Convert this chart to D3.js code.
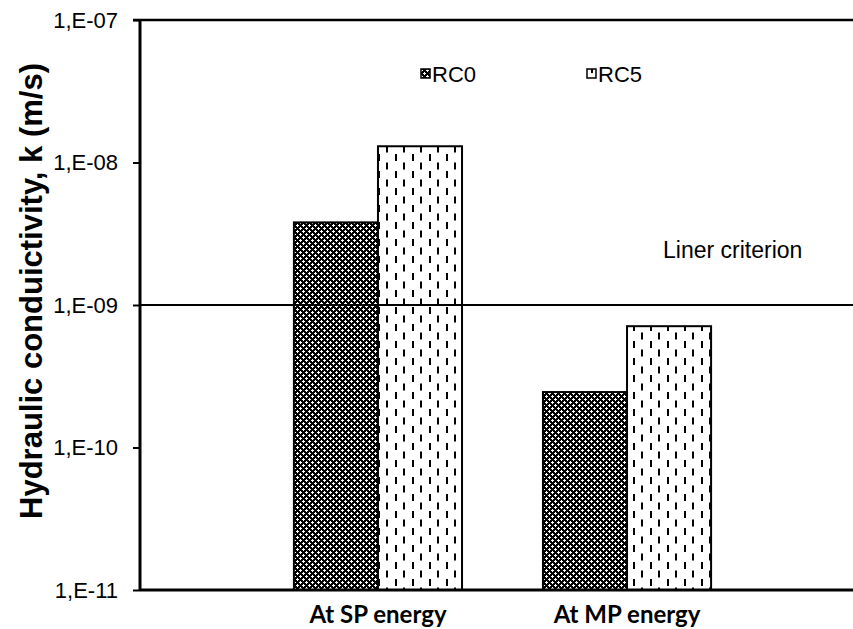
<!DOCTYPE html>
<html>
<head>
<meta charset="utf-8">
<script src="https://cdn.jsdelivr.net/npm/d3@7"></script>
<style>
  body { margin: 0; background: #fff; }
  svg { display: block; }
</style>
</head>
<body>
<svg id="canvas"></svg>
<script>
let categories = ["At SP energy", "At MP energy"];
let seriesNames = ["RC0", "RC5"];
let rc0 = [3.8e-9, 2.45e-10];
let rc5 = [1.3e-8, 7.1e-10];
let yTicks = [1e-11, 1e-10, 1e-9, 1e-8, 1e-7];
let yTickLabels = ["1,E-11", "1,E-10", "1,E-09", "1,E-08", "1,E-07"];
let linerCriterion = 1e-9;

let width = 853;
let height = 629;
let plotLeft = 140;
let plotTop = 20;
let plotBottom = 590;
let plotRight = 865;

let canvas = d3.select("#canvas").attr("width", width).attr("height", height);

let defs = canvas.append("defs");

// dark dotted grid for RC0
let p0 = defs.append("pattern")
  .attr("id", "pat-rc0")
  .attr("patternUnits", "userSpaceOnUse")
  .attr("width", 6).attr("height", 6);
p0.append("rect").attr("width", 6).attr("height", 6).attr("fill", "#000");
[[2, 3], [3, 2], [3, 3], [4, 3], [3, 4], [0, 0], [1, 0], [5, 0], [0, 1], [0, 5]].forEach((d) => {
  p0.append("rect").attr("x", d[0]).attr("y", d[1]).attr("width", 1).attr("height", 1).attr("fill", "#fff");
});

// staggered vertical dashes for RC5
let p1 = defs.append("pattern")
  .attr("id", "pat-rc5")
  .attr("patternUnits", "userSpaceOnUse")
  .attr("width", 17).attr("height", 17);
p1.append("rect").attr("width", 17).attr("height", 17).attr("fill", "#fff");
p1.append("rect").attr("x", 4).attr("y", 1).attr("width", 2).attr("height", 7).attr("fill", "#000");
p1.append("rect").attr("x", 12).attr("y", 9.5).attr("width", 2).attr("height", 7).attr("fill", "#000");

let xScale = d3.scaleBand()
  .domain(categories)
  .range([plotLeft, plotRight])
  .paddingInner(0.325)
  .paddingOuter(0.618);

let xSub = d3.scaleBand()
  .domain(seriesNames)
  .range([0, xScale.bandwidth()]);

let yScale = d3.scaleLog()
  .domain([1e-11, 1e-7])
  .range([plotBottom, plotTop]);

let fills = { RC0: "url(#pat-rc0)", RC5: "url(#pat-rc5)" };

let rows = [];
categories.forEach((c, i) => {
  rows.push({ cat: c, series: "RC0", value: rc0[i] });
  rows.push({ cat: c, series: "RC5", value: rc5[i] });
});

canvas.append("g")
  .selectAll("rect")
  .data(rows)
  .enter()
  .append("rect")
  .attr("x", (d) => xScale(d.cat) + xSub(d.series))
  .attr("width", xSub.bandwidth())
  .attr("y", (d) => yScale(d.value))
  .attr("height", (d) => plotBottom - yScale(d.value))
  .attr("fill", (d) => fills[d.series])
  .attr("stroke", "#000")
  .attr("stroke-width", 2);

// liner criterion line
canvas.append("line")
  .attr("x1", plotLeft).attr("x2", width)
  .attr("y1", yScale(linerCriterion)).attr("y2", yScale(linerCriterion))
  .attr("stroke", "#000").attr("stroke-width", 2);

canvas.append("text")
  .attr("x", 663)
  .attr("y", yScale(linerCriterion) - 47)
  .attr("font-family", "Liberation Sans, Arial, sans-serif")
  .attr("font-size", 23)
  .text("Liner criterion");

// top border
canvas.append("line")
  .attr("x1", plotLeft - 7).attr("x2", width)
  .attr("y1", plotTop).attr("y2", plotTop)
  .attr("stroke", "#000").attr("stroke-width", 2.5);

// y axis
let yAxis = d3.axisLeft(yScale)
  .tickValues(yTicks)
  .tickSize(7)
  .tickPadding(15)
  .tickFormat((d, i) => yTickLabels[i]);

let yG = canvas.append("g")
  .attr("transform", "translate(" + plotLeft + ",0)")
  .call(yAxis);
yG.select(".domain").remove();
yG.selectAll("line").attr("stroke", "#000").attr("stroke-width", 2);
yG.selectAll("text")
  .attr("font-family", "Liberation Sans, Arial, sans-serif")
  .attr("font-size", 22)
  .attr("fill", "#000");

canvas.append("line")
  .attr("x1", plotLeft).attr("x2", plotLeft)
  .attr("y1", plotTop).attr("y2", plotBottom)
  .attr("stroke", "#000").attr("stroke-width", 3);

// x axis
let xAxis = d3.axisBottom(xScale).tickSize(0);
let xG = canvas.append("g")
  .attr("transform", "translate(0," + plotBottom + ")")
  .call(xAxis);
xG.select(".domain").remove();
xG.selectAll("text")
  .attr("y", 33)
  .attr("dy", null)
  .attr("font-family", "Lato, Carlito, Calibri, sans-serif")
  .attr("font-weight", "bold")
  .attr("font-size", 24)
  .attr("fill", "#000");

canvas.append("line")
  .attr("x1", plotLeft).attr("x2", width)
  .attr("y1", plotBottom).attr("y2", plotBottom)
  .attr("stroke", "#000").attr("stroke-width", 3);

// y title
canvas.append("text")
  .attr("transform", "translate(42," + 291 + ") rotate(-90)")
  .attr("text-anchor", "middle")
  .attr("font-family", "Liberation Sans, Arial, sans-serif")
  .attr("font-weight", "bold")
  .attr("font-size", 31)
  .text("Hydraulic conduictivity, k (m/s)");

// legend
let legendPos = [[421, 82], [587, 82]];
seriesNames.forEach((s, i) => {
  let g = canvas.append("g").attr("transform", "translate(" + legendPos[i][0] + "," + legendPos[i][1] + ")");
  g.append("rect")
    .attr("x", 0).attr("y", -13)
    .attr("width", 9).attr("height", 9)
    .attr("fill", fills[s])
    .attr("stroke", "#000").attr("stroke-width", 1.5);
  g.append("text")
    .attr("x", 11).attr("y", 0)
    .attr("font-family", "Liberation Sans, Arial, sans-serif")
    .attr("font-size", 22)
    .text(s);
});
</script>
</body>
</html>
